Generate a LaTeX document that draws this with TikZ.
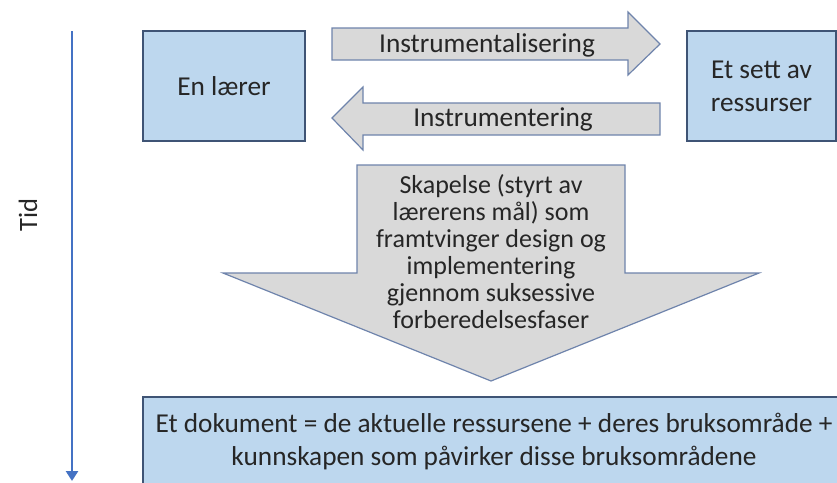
\documentclass[tikz,border=0pt]{standalone}
\usepackage{fontspec}
\setmainfont{Carlito}
\usetikzlibrary{arrows.meta}
\definecolor{boxfill}{HTML}{BDD7EE}
\definecolor{boxline}{HTML}{3F5475}
\definecolor{arrfill}{HTML}{D9D9D9}
\definecolor{arrline}{HTML}{6F84AC}
\definecolor{timeblue}{HTML}{4472C4}
\tikzset{
  bluebox/.style={draw=boxline, fill=boxfill, line width=1.2pt},
  blockarrow/.style={draw=arrline, fill=arrfill, line width=1.2pt, line join=miter},
  lbl/.style={font=\fontsize{27.3}{28}\selectfont, text=black!85, align=center, inner sep=0pt},
}
\begin{document}
\begin{tikzpicture}[x=1pt,y=-1pt]
\clip (0,0) rectangle (837,482);
\fill[white] (0,0) rectangle (837,482);
% time axis
\coordinate (t0) at (72,31);
\coordinate (t1) at (72,481);
\draw[timeblue, line width=2.6pt, -{Triangle[width=12pt,length=10pt]}] (t0) -- (t1);
\node[lbl, font=\fontsize{26.5}{28}\selectfont, rotate=90] (tid) at (28,215) {Tid};
% boxes
\draw[bluebox] (143,31) rectangle (305,141);
\node[lbl] (laerer) at (224,86) {En lærer};
\draw[bluebox] (687,31) rectangle (836,141);
\node[lbl, font=\fontsize{27.3}{33}\selectfont] (sett) at (761.5,86) {Et sett av\\ressurser};
% instrumentalisering arrow
\draw[blockarrow] (332,28) -- (628,28) -- (628,12) -- (660,44) -- (628,75) -- (628,60) -- (332,60) -- cycle;
\node[lbl] (instr1) at (487,45) {Instrumentalisering};
% instrumentering arrow
\draw[blockarrow] (660,103) -- (363,103) -- (363,87) -- (332,118) -- (363,150) -- (363,135) -- (660,135) -- cycle;
\node[lbl] (instr2) at (503,119) {Instrumentering};
% down arrow
\draw[blockarrow] (357,165) -- (625,165) -- (625,273) -- (759,273) -- (491,381) -- (223,273) -- (357,273) -- cycle;
\node[lbl, font=\fontsize{26}{27}\selectfont] (skap) at (491,252) {Skapelse (styrt av\\lærerens mål) som\\framtvinger design og\\implementering\\gjennom suksessive\\forberedelsesfaser};
% document box
\draw[bluebox] (143,397) rectangle (900,520);
\node[lbl, font=\fontsize{27.3}{33}\selectfont] (dok) at (494,442) {Et dokument = de aktuelle ressursene + deres bruksområde +\\kunnskapen som påvirker disse bruksområdene};
\end{tikzpicture}
\end{document}
